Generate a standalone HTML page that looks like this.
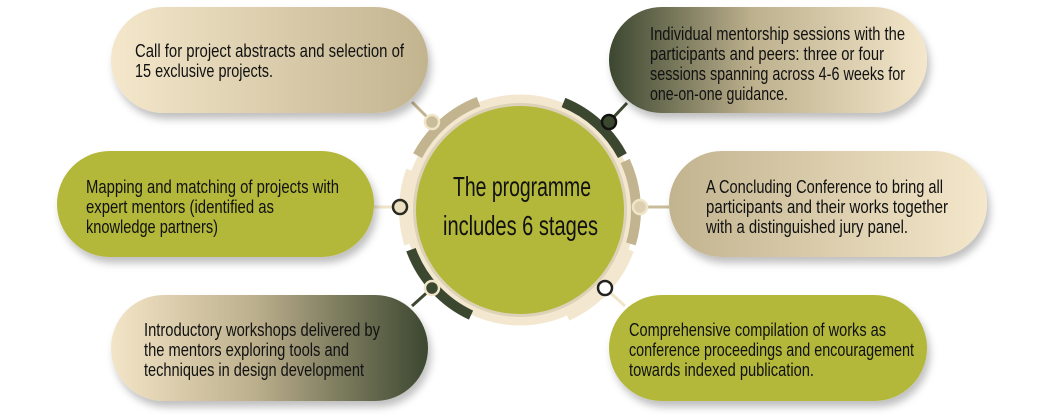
<!DOCTYPE html>
<html><head><meta charset="utf-8"><style>
html,body{margin:0;padding:0;background:#fff;width:1038px;height:415px;overflow:hidden}
text{font-family:"Liberation Sans Narrow","Liberation Sans",sans-serif;fill:#111}
</style></head><body>
<svg width="1038" height="415" viewBox="0 0 1038 415" xmlns="http://www.w3.org/2000/svg">
<defs>
<linearGradient id="g1" x1="0" x2="1"><stop offset="0" stop-color="#f4e7cb"/><stop offset="1" stop-color="#c2b48f"/></linearGradient>
<linearGradient id="g3" x1="0" x2="1"><stop offset="0" stop-color="#f3e5c7"/><stop offset="0.45" stop-color="#bdb08d"/><stop offset="1" stop-color="#3c4730"/></linearGradient>
<linearGradient id="gr1" x1="0" x2="1"><stop offset="0" stop-color="#3c4730"/><stop offset="0.45" stop-color="#bdb08d"/><stop offset="1" stop-color="#f4e7cb"/></linearGradient>
<linearGradient id="gr2" x1="0" x2="1"><stop offset="0" stop-color="#c2b48f"/><stop offset="1" stop-color="#f4e7cb"/></linearGradient>
<filter id="sh" x="-10%" y="-20%" width="130%" height="160%"><feDropShadow dx="3" dy="6" stdDeviation="4" flood-color="#000" flood-opacity="0.25"/></filter>
</defs>
<g stroke-width="3">
<line x1="412" y1="102" x2="432" y2="122" stroke="#c2b48f"/>
<line x1="374" y1="207" x2="400" y2="207" stroke="#f1e5c9"/>
<line x1="412" y1="306" x2="432" y2="288" stroke="#3c4730"/>
<line x1="627" y1="103" x2="609" y2="122" stroke="#3c4730"/>
<line x1="640" y1="207" x2="669" y2="207" stroke="#c9bc98"/>
<line x1="605" y1="288" x2="625" y2="306" stroke="#f1e5c9"/>
</g>
<g filter="url(#sh)">
<rect x="111" y="7" width="317" height="106" rx="53" fill="url(#g1)"/>
<rect x="57" y="151" width="317" height="106" rx="53" fill="#b3b83a"/>
<rect x="111" y="295" width="317" height="106" rx="53" fill="url(#g3)"/>
<rect x="609" y="7" width="318" height="106" rx="53" fill="url(#gr1)"/>
<rect x="669" y="151" width="318" height="106" rx="53" fill="url(#gr2)"/>
<rect x="609" y="295" width="318" height="106" rx="53" fill="#b3b83a"/>
</g>
<circle cx="520" cy="210" r="111" fill="none" stroke="#f3e8cf" stroke-width="9"/>
<g fill="none" stroke-width="10">
<path d="M 417.6 155.6 A 116 116 0 0 1 478.5 101.7" stroke="#c2b48f"/>
<path d="M 563.5 102.5 A 116 116 0 0 1 622.4 155.6" stroke="#3c4730"/>
<path d="M 625.1 161.0 A 116 116 0 0 1 630.9 243.9" stroke="#c2b48f"/>
<path d="M 629.0 249.7 A 116 116 0 0 1 567.2 316.0" stroke="#f3e8cf"/>
<path d="M 471.0 315.1 A 116 116 0 0 1 411.0 249.7" stroke="#3c4730"/>
<path d="M 409.1 243.9 A 116 116 0 0 1 411.0 170.3" stroke="#f3e8cf"/>
</g>
<circle cx="520" cy="210" r="107" fill="#dcd2b8"/>
<circle cx="520" cy="210" r="104" fill="#b3b83a"/>
<g stroke-width="2.5">
<circle cx="432" cy="122" r="7" fill="#c9bc98" stroke="#f1e5c9"/>
<circle cx="400" cy="207" r="7" fill="#ebdfc2" stroke="#2a2a20"/>
<circle cx="432" cy="288" r="7" fill="#3c4730" stroke="#f1e5c9"/>
<circle cx="609" cy="122" r="7" fill="#3c4730" stroke="#111"/>
<circle cx="640" cy="207" r="7" fill="#ddd0b0" stroke="#f1e5c9"/>
<circle cx="605" cy="288" r="7" fill="#fff" stroke="#222"/>
</g>
<g font-size="18">
<text x="135" y="57" textLength="269" lengthAdjust="spacingAndGlyphs">Call for project abstracts and selection of</text>
<text x="135" y="77" textLength="138" lengthAdjust="spacingAndGlyphs">15 exclusive projects.</text>
<text x="86" y="193" textLength="253" lengthAdjust="spacingAndGlyphs">Mapping and matching of projects with</text>
<text x="86" y="213" textLength="188" lengthAdjust="spacingAndGlyphs">expert mentors (identified as</text>
<text x="86" y="233" textLength="132" lengthAdjust="spacingAndGlyphs">knowledge partners)</text>
<text x="144" y="336" textLength="236" lengthAdjust="spacingAndGlyphs">Introductory workshops delivered by</text>
<text x="144" y="356" textLength="205" lengthAdjust="spacingAndGlyphs">the mentors exploring tools and</text>
<text x="144" y="376" textLength="220" lengthAdjust="spacingAndGlyphs">techniques in design development</text>
<text x="650" y="40" textLength="255" lengthAdjust="spacingAndGlyphs">Individual mentorship sessions with the</text>
<text x="650" y="60" textLength="234" lengthAdjust="spacingAndGlyphs">participants and peers: three or four</text>
<text x="650" y="80" textLength="255" lengthAdjust="spacingAndGlyphs">sessions spanning across 4-6 weeks for</text>
<text x="650" y="100" textLength="138" lengthAdjust="spacingAndGlyphs">one-on-one guidance.</text>
<text x="706" y="193" textLength="237" lengthAdjust="spacingAndGlyphs">A Concluding Conference to bring all</text>
<text x="706" y="213" textLength="242" lengthAdjust="spacingAndGlyphs">participants and their works together</text>
<text x="706" y="233" textLength="202" lengthAdjust="spacingAndGlyphs">with a distinguished jury panel.</text>
<text x="629" y="336" textLength="257" lengthAdjust="spacingAndGlyphs">Comprehensive compilation of works as</text>
<text x="629" y="356" textLength="285" lengthAdjust="spacingAndGlyphs">conference proceedings and encouragement</text>
<text x="629" y="376" textLength="185" lengthAdjust="spacingAndGlyphs">towards indexed publication.</text>
</g>
<text x="453" y="196" font-size="28" textLength="138" lengthAdjust="spacingAndGlyphs">The programme</text>
<text x="443" y="235" font-size="28" textLength="155" lengthAdjust="spacingAndGlyphs">includes 6 stages</text>
</svg>
</body></html>
